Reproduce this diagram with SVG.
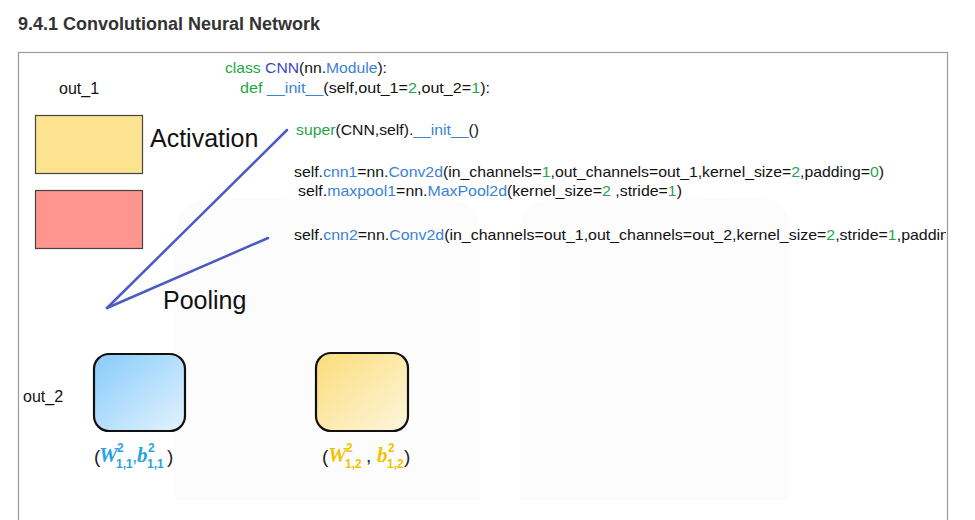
<svg xmlns="http://www.w3.org/2000/svg" width="975" height="520" viewBox="0 0 975 520">
<style>
.title{font-family:"Liberation Sans",Arial,sans-serif;font-weight:bold;font-size:18px;fill:#333}
.code{font-family:"Liberation Sans",Arial,sans-serif;font-size:15px;fill:#111}
.g{fill:#1fa64a}
.b{fill:#3a83d6}
.p{fill:#3d45c8}
.lbl{font-family:"Liberation Sans",Arial,sans-serif;font-size:16px;fill:#111}
.big{font-family:"Liberation Sans",Arial,sans-serif;font-size:25px;fill:#111}
.m{font-family:"Liberation Sans",Arial,sans-serif;font-size:19px}
.mi{font-family:"Liberation Serif","Times New Roman",serif;font-size:21px;font-weight:bold;font-style:italic}
.ms{font-family:"Liberation Sans",Arial,sans-serif;font-size:12px;font-weight:bold}
.conn{stroke:#4a5cc4;stroke-width:2.5;fill:none;stroke-linecap:round}
</style>
<defs>
<linearGradient id="gb" x1="0" y1="0" x2="1" y2="1">
<stop offset="0" stop-color="#86cbfb"/><stop offset="1" stop-color="#e4f3fe"/>
</linearGradient>
<linearGradient id="gy" x1="0" y1="0" x2="1" y2="1">
<stop offset="0" stop-color="#fbdc7a"/><stop offset="1" stop-color="#fef6dd"/>
</linearGradient>
<clipPath id="frameclip"><rect x="19" y="53" width="927" height="470"/></clipPath>
</defs>
<rect width="975" height="520" fill="#fff"/>
<g id="watermark" fill="#fcfcfd">
<path d="M175 230 Q180 200 210 198 L450 200 Q480 202 480 230 L480 500 L175 500 Z"/>
<path d="M520 230 Q520 202 550 200 L760 198 Q790 200 790 230 L790 500 L520 500 Z"/>
</g>
<text class="title" x="18" y="30">9.4.1 Convolutional Neural Network</text>
<rect id="frame" x="18.5" y="52.5" width="929" height="480" fill="none" stroke="#999" stroke-width="1.2"/>
<g id="code" clip-path="url(#frameclip)">
<text class="code" x="225" y="73" textLength="162" lengthAdjust="spacingAndGlyphs"><tspan class="g">class</tspan> <tspan class="p">CNN</tspan>(nn.<tspan class="b">Module</tspan>):</text>
<text class="code" x="240" y="93" textLength="250" lengthAdjust="spacingAndGlyphs"><tspan class="g">def</tspan> <tspan class="b">__init__</tspan>(self,out_1=<tspan class="g">2</tspan>,out_2=<tspan class="g">1</tspan>):</text>
<text class="code" x="296" y="135" textLength="183" lengthAdjust="spacingAndGlyphs"><tspan class="g">super</tspan>(CNN,self).<tspan class="b">__init__</tspan>()</text>
<text class="code" x="294" y="177" textLength="590" lengthAdjust="spacingAndGlyphs">self.<tspan class="b">cnn1</tspan>=nn.<tspan class="b">Conv2d</tspan>(in_channels=<tspan class="g">1</tspan>,out_channels=out_1,kernel_size=<tspan class="g">2</tspan>,padding=<tspan class="g">0</tspan>)</text>
<text class="code" x="298" y="196" textLength="384" lengthAdjust="spacingAndGlyphs">self.<tspan class="b">maxpool1</tspan>=nn.<tspan class="b">MaxPool2d</tspan>(kernel_size=<tspan class="g">2</tspan> ,stride=<tspan class="g">1</tspan>)</text>
<text class="code" x="294" y="240" textLength="655" lengthAdjust="spacingAndGlyphs">self.<tspan class="b">cnn2</tspan>=nn.<tspan class="b">Conv2d</tspan>(in_channels=out_1,out_channels=out_2,kernel_size=<tspan class="g">2</tspan>,stride=<tspan class="g">1</tspan>,paddin</text>
</g>
<g id="out1-label"><text class="lbl" x="59" y="94">out_1</text></g>
<g id="activation-map"><rect x="35.5" y="115.5" width="107" height="58" fill="#fce390" stroke="#444" stroke-width="1.2"/></g>
<g id="pooling-map"><rect x="35.5" y="190.5" width="107" height="58" fill="#ff958f" stroke="#444" stroke-width="1.2"/></g>
<g id="activation-label"><text class="big" x="150" y="147">Activation</text></g>
<g id="pooling-label"><text class="big" x="163" y="309" font-size="24">Pooling</text></g>
<g id="connectors">
<line class="conn" x1="107" y1="308" x2="287" y2="130"/>
<line class="conn" x1="107" y1="308" x2="268" y2="238"/>
</g>
<g id="out2-label"><text class="lbl" x="23" y="402">out_2</text></g>
<g id="kernel-1">
<rect x="94" y="354" width="91" height="77" rx="15" fill="url(#gb)" stroke="#111" stroke-width="2.2"/>
<g fill="#2aa3e4">
<text class="m" x="94" y="463" fill="#222">(</text>
<text class="mi" x="99" y="462">W</text>
<text class="ms" x="117" y="452">2</text>
<text class="ms" x="116" y="468">1,1</text>
<text class="m" x="132" y="462">,</text>
<text class="mi" x="137" y="462">b</text>
<text class="ms" x="148" y="452">2</text>
<text class="ms" x="147" y="468">1,1</text>
<text class="m" x="167" y="463" fill="#222">)</text>
</g>
</g>
<g id="kernel-2">
<rect x="316" y="353" width="92" height="78" rx="15" fill="url(#gy)" stroke="#111" stroke-width="2.2"/>
<g fill="#f4c200">
<text class="m" x="322" y="463" fill="#222">(</text>
<text class="mi" x="328" y="462">W</text>
<text class="ms" x="346" y="452">2</text>
<text class="ms" x="345" y="468">1,2</text>
<text class="m" x="366" y="462" fill="#222">,</text>
<text class="mi" x="377" y="462">b</text>
<text class="ms" x="388" y="452">2</text>
<text class="ms" x="387" y="468">1,2</text>
<text class="m" x="404" y="463" fill="#222">)</text>
</g>
</g>
</svg>
